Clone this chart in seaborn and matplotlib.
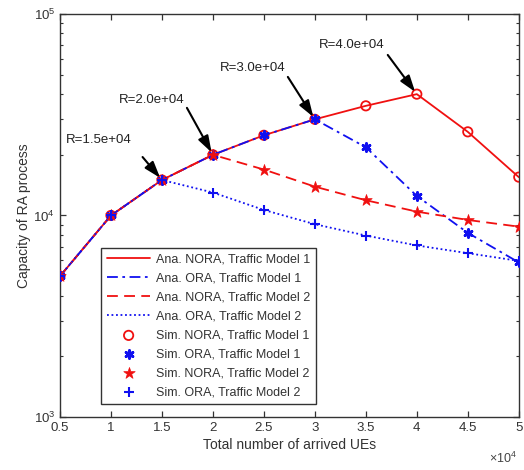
import numpy as np
import seaborn as sns
import matplotlib
matplotlib.use("Agg")
import matplotlib.pyplot as plt
from matplotlib.ticker import FuncFormatter, LogLocator

# total number of arrived UEs
ues = [5000, 10000, 15000, 20000, 25000, 30000, 35000, 40000, 45000, 50000]

# capacity of RA process
nora_tm1 = [5000, 10000, 15000, 20000, 25000, 30000, 35000, 40000, 26000, 15500]
ora_tm1 = [5000, 10000, 15000, 20000, 25000, 30000, 21800, 12500, 8200, 5850]
nora_tm2 = [5000, 10000, 15000, 20000, 16900, 13900, 11900, 10450, 9500, 8800]
ora_tm2 = [5000, 10000, 15000, 13000, 10650, 9050, 7950, 7100, 6500, 5950]

# R annotations: label, target point, arrow tail, text position
r_labels = ['R=1.5e+04', 'R=2.0e+04', 'R=3.0e+04', 'R=4.0e+04']
r_points = [(15000, 15000), (20000, 20000), (30000, 30000), (40000, 40000)]
r_tails = [(13100, 19500), (17450, 34200), (27350, 48700), (37150, 62600)]
r_texts = [(8800, 23700), (14000, 37400), (23900, 54000), (33600, 70200)]

sns.set_theme(style='ticks')
plt.rcParams['font.family'] = ['Liberation Sans', 'DejaVu Sans']
plt.rcParams['mathtext.fontset'] = 'custom'
plt.rcParams['mathtext.rm'] = 'Liberation Sans'

fig = plt.figure(figsize=(5.24, 4.70), dpi=100)
ax = fig.add_axes([0.1145, 0.1128, 0.8755, 0.8575])

red = '#f01010'
blue = '#1010f0'

# analytical curves
sns.lineplot(x=ues, y=nora_tm1, color=red, linestyle='-', lw=1.3, label='Ana. NORA, Traffic Model 1', ax=ax)
sns.lineplot(x=ues, y=ora_tm1, color=blue, linestyle=(0, (6, 2.5, 1.5, 2.5)), lw=1.3, label='Ana. ORA, Traffic Model 1', ax=ax)
sns.lineplot(x=ues, y=nora_tm2, color=red, linestyle=(0, (6, 3.5)), lw=1.3, label='Ana. NORA, Traffic Model 2', ax=ax)
sns.lineplot(x=ues, y=ora_tm2, color=blue, linestyle=(0, (1, 1.5)), lw=1.3, label='Ana. ORA, Traffic Model 2', ax=ax)

# simulation markers
sns.scatterplot(x=ues, y=nora_tm1, marker='o', s=45, facecolor='none', edgecolor=red, linewidth=1.3,
                label='Sim. NORA, Traffic Model 1', ax=ax, zorder=3)
sns.scatterplot(x=ues, y=ora_tm1, marker=(6, 2, 0), s=32, color=blue, edgecolor=blue, linewidth=2.0,
                label='Sim. ORA, Traffic Model 1', ax=ax, zorder=3)
sns.scatterplot(x=ues, y=nora_tm2, marker='*', s=75, color=red, edgecolor=red, linewidth=0.5,
                label='Sim. NORA, Traffic Model 2', ax=ax, zorder=3)
sns.scatterplot(x=ues, y=ora_tm2, marker='+', s=55, color=blue, edgecolor=blue, linewidth=1.5,
                label='Sim. ORA, Traffic Model 2', ax=ax, zorder=3)

for lab, pt, tail, txt in zip(r_labels, r_points, r_tails, r_texts):
    ax.annotate('', xy=pt, xytext=tail,
                arrowprops=dict(arrowstyle='-|>,head_width=0.3,head_length=0.9', color='black',
                                lw=1.5, shrinkA=0, shrinkB=2, mutation_scale=11))
    ax.text(txt[0], txt[1], lab, ha='center', va='center', fontsize=9.5, color='#222222')

ax.set_yscale('log')
ax.set_xlim(5000, 50000)
ax.set_ylim(1e3, 1e5)
ax.set_xticks(ues)
ax.xaxis.set_major_formatter(FuncFormatter(lambda v, p: '%g' % (v / 1e4)))
ax.yaxis.set_minor_locator(LogLocator(base=10, subs=np.arange(2, 10), numticks=20))
ax.tick_params(which='both', direction='in', top=True, right=True, colors='#333333',
               labelcolor='#333333', labelsize=9.5)
ax.tick_params(which='major', length=4, width=0.9)
ax.tick_params(which='minor', length=2.5, width=0.8)
for sp in ax.spines.values():
    sp.set_color('#333333')
    sp.set_linewidth(1.0)

ax.set_xlabel('Total number of arrived UEs', fontsize=10, color='#333333', labelpad=3)
ax.set_ylabel('Capacity of RA process', fontsize=10, color='#333333', labelpad=2)
ax.text(0.997, -0.102, r'$\times\mathregular{10^4}$', transform=ax.transAxes, ha='right', va='center',
        fontsize=9, color='#444444')

handles, labels = ax.get_legend_handles_labels()
leg = ax.legend(handles, labels, loc='lower left', bbox_to_anchor=(0.076, 0.016), fontsize=9,
                frameon=True, fancybox=False, edgecolor='#333333', framealpha=1, handlelength=3.5,
                labelspacing=0.56, borderpad=0.45, handletextpad=0.45, scatterpoints=1)
leg.get_frame().set_linewidth(1.0)
for t in leg.get_texts():
    t.set_color('#333333')

fig.savefig('out.png', dpi=100)
